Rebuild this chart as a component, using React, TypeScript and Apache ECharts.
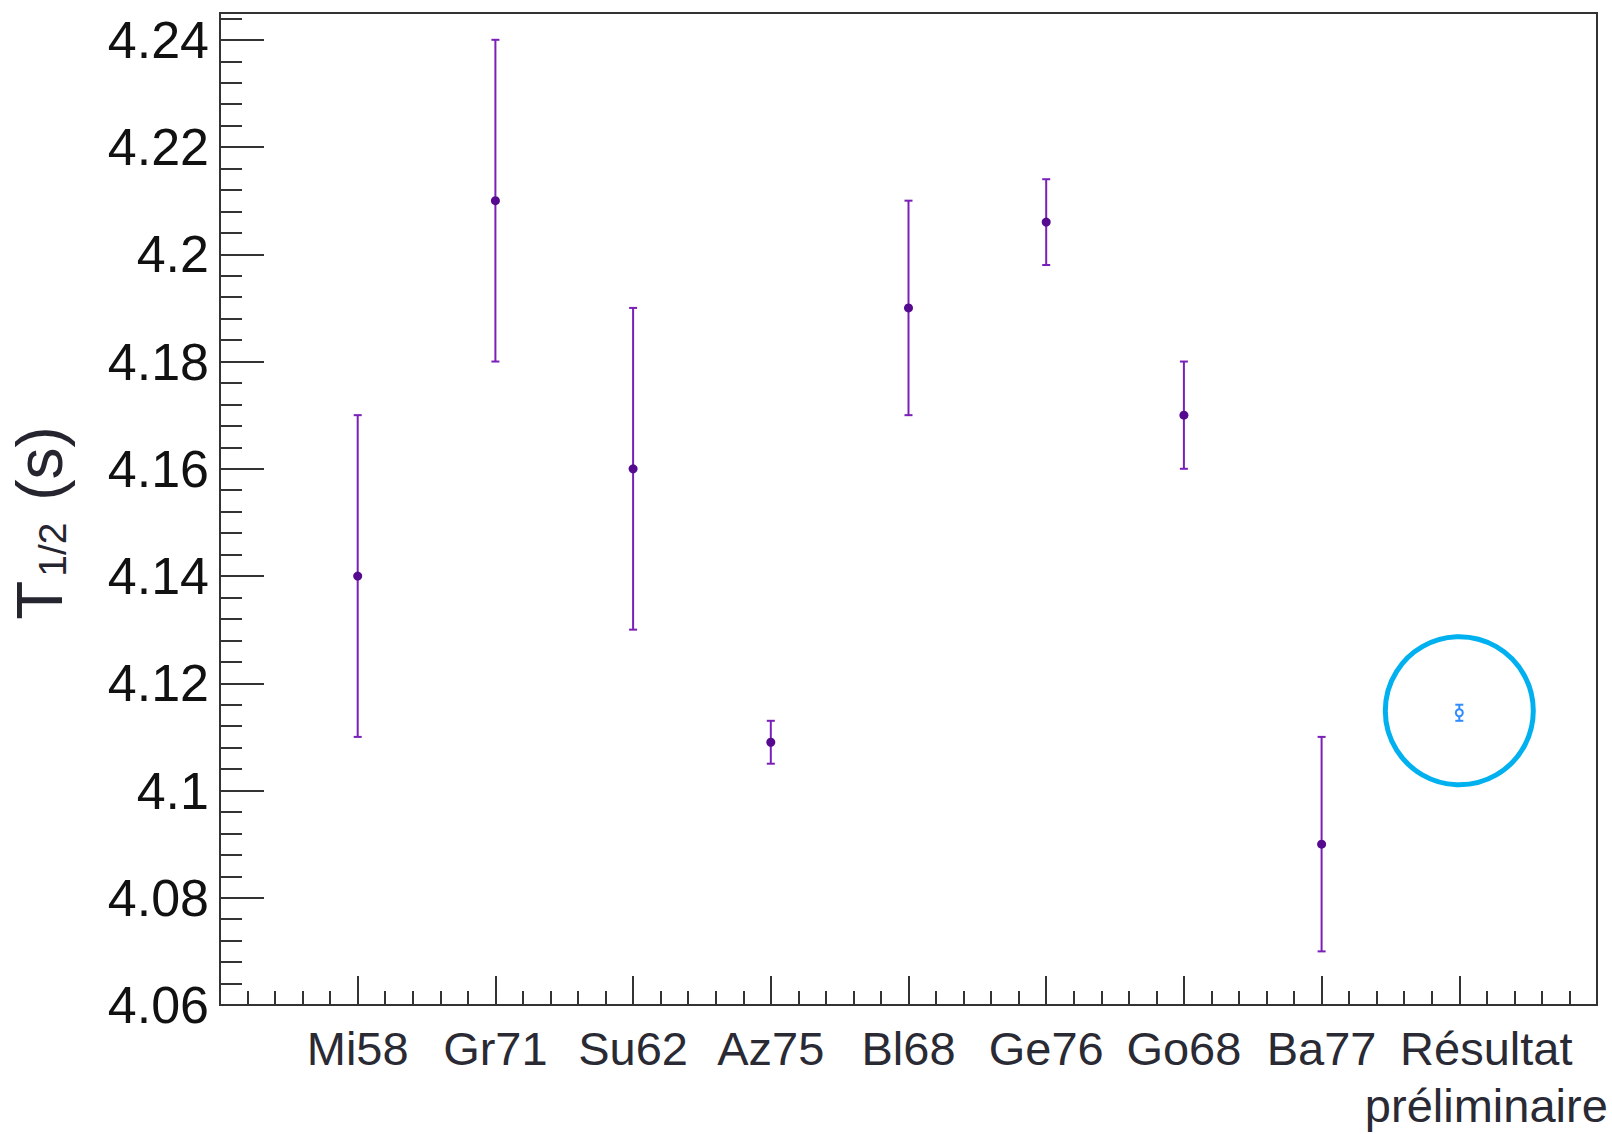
import React, { useEffect, useRef } from "react";
import * as echarts from "echarts";

const categories = ["Mi58", "Gr71", "Su62", "Az75", "Bl68", "Ge76", "Go68", "Ba77", "Résultat\npréliminaire"];
const values = [4.14, 4.21, 4.16, 4.109, 4.19, 4.206, 4.17, 4.09];
const errors = [0.03, 0.03, 0.03, 0.004, 0.02, 0.008, 0.01, 0.02];
const resultValue = [4.1145];
const resultError = [0.0015];
const yTickLabels = ["4.06", "4.08", "4.1", "4.12", "4.14", "4.16", "4.18", "4.2", "4.22", "4.24"];

const FONT = "'Liberation Sans', Arial, Helvetica, sans-serif";

export default function App() {
  const ref = useRef<HTMLDivElement>(null);
  useEffect(() => {
    if (!ref.current) return;
    const chart = echarts.init(ref.current, null, { renderer: "svg" });
    const measData = values.map((v, i) => [i + 1, v, v - errors[i], v + errors[i]]);
    const resData = resultValue.map((v, i) => [values.length + 1 + i, v, v - resultError[i], v + resultError[i]]);

    const makeRender = (lineColor: string, markColor: string, hollow: boolean, ring: boolean) =>
      (params: any, api: any) => {
        const x = api.value(0);
        const c = api.coord([x, api.value(1)]);
        const lo = api.coord([x, api.value(2)]);
        const hi = api.coord([x, api.value(3)]);
        const hw = 4;
        const children: any[] = [
          { type: "line", shape: { x1: c[0], y1: lo[1], x2: c[0], y2: hi[1] }, style: { stroke: lineColor, lineWidth: 2 } },
          { type: "line", shape: { x1: c[0] - hw, y1: lo[1], x2: c[0] + hw, y2: lo[1] }, style: { stroke: lineColor, lineWidth: 2 } },
          { type: "line", shape: { x1: c[0] - hw, y1: hi[1], x2: c[0] + hw, y2: hi[1] }, style: { stroke: lineColor, lineWidth: 2 } },
          hollow
            ? { type: "circle", shape: { cx: c[0], cy: c[1], r: 3.5 }, style: { fill: "#fff", stroke: markColor, lineWidth: 2 } }
            : { type: "circle", shape: { cx: c[0], cy: c[1], r: 4.5 }, style: { fill: markColor } },
        ];
        if (ring) {
          children.push({ type: "circle", shape: { cx: c[0], cy: c[1] - 2, r: 74 }, style: { fill: "none", stroke: "#00b0ef", lineWidth: 5 } });
        }
        return { type: "group", children };
      };

    const tickStyle = { color: "#333", width: 2 };
    chart.setOption({
      animation: false,
      backgroundColor: "#fff",
      grid: { left: 217, right: 15, top: 13, bottom: 126, show: true, borderColor: "#333", borderWidth: 2, backgroundColor: "#fff" },
      xAxis: {
        type: "value",
        min: 0,
        max: 10,
        interval: 1,
        axisLine: { show: true, lineStyle: tickStyle },
        axisTick: { show: true, inside: true, length: 29, lineStyle: tickStyle },
        minorTick: { show: true, splitNumber: 5, length: 14, lineStyle: tickStyle },
        splitLine: { show: false },
        minorSplitLine: { show: false },
        axisLabel: {
          show: true,
          margin: 15,
          fontSize: 47,
          lineHeight: 57,
          fontFamily: FONT,
          color: "#2a2a34",
          formatter: (v: number) => {
            const i = Math.round(v) - 1;
            if (i < 0 || i >= categories.length) return "";
            if (i === categories.length - 1) {
              return categories[i].split("\n").map((s) => "{r|" + s + "}").join("\n");
            }
            return categories[i];
          },
          rich: {
            r: { fontSize: 47, lineHeight: 57, fontFamily: FONT, color: "#2a2a34", padding: [0, 0, 0, 54] },
          },
        },
      },
      yAxis: [
        {
          type: "value",
          position: "left",
          min: 4.06,
          max: 4.245,
          interval: 0.004,
          axisLine: { show: true, lineStyle: tickStyle },
          axisTick: { show: true, inside: true, length: 22, lineStyle: tickStyle },
          axisLabel: { show: false },
          splitLine: { show: false },
        },
        {
          type: "value",
          position: "left",
          offset: 0,
          min: 4.06,
          max: 4.245,
          interval: 0.02,
          axisLine: { show: true, lineStyle: tickStyle },
          axisTick: { show: true, inside: true, length: 44, lineStyle: tickStyle },
          splitLine: { show: false },
          axisLabel: {
            show: true,
            margin: 11,
            fontSize: 52,
            fontFamily: FONT,
            color: "#111",
            formatter: (v: number) => {
              const k = Math.round((v - 4.06) / 0.02);
              if (Math.abs((v - 4.06) / 0.02 - k) > 1e-6) return "";
              return yTickLabels[k] ?? "";
            },
          },
          name: "{a|T}{b|1/2}{a| (s)}",
          nameLocation: "middle",
          nameRotate: 90,
          nameGap: 148,
          nameTextStyle: {
            fontFamily: FONT,
            color: "#25252f",
            padding: [0, 28, 0, 0],
            rich: {
              a: { fontSize: 64, lineHeight: 64, fontFamily: FONT, color: "#25252f" },
              b: { fontSize: 39, lineHeight: 12, verticalAlign: "bottom", fontFamily: FONT, color: "#25252f", padding: [0, 4, 0, 4] },
            },
          },
        },
      ],
      series: [
        {
          type: "custom",
          xAxisIndex: 0,
          yAxisIndex: 0,
          data: measData,
          renderItem: makeRender("#7a1fb8", "#560a90", false, false),
          clip: false,
        },
        {
          type: "custom",
          xAxisIndex: 0,
          yAxisIndex: 0,
          data: resData,
          renderItem: makeRender("#2e8cff", "#2e8cff", true, true),
          clip: false,
        },
      ],
    });
    return () => chart.dispose();
  }, []);
  return <div ref={ref} style={{ position: "fixed", left: 0, top: 0, width: 1612, height: 1134, background: "#fff" }} />;
}
